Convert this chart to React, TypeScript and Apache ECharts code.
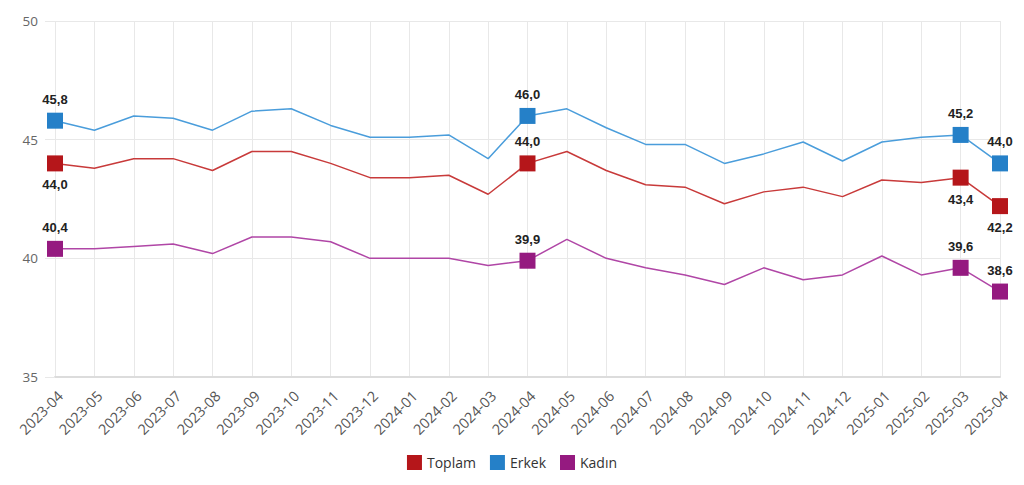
import React, { useEffect, useRef } from "react";
import * as echarts from "echarts";

const categories = [
  "2023-04", "2023-05", "2023-06", "2023-07", "2023-08", "2023-09", "2023-10", "2023-11", "2023-12",
  "2024-01", "2024-02", "2024-03", "2024-04", "2024-05", "2024-06", "2024-07", "2024-08", "2024-09",
  "2024-10", "2024-11", "2024-12", "2025-01", "2025-02", "2025-03", "2025-04",
];

const toplam = [44.0, 43.8, 44.2, 44.2, 43.7, 44.5, 44.5, 44.0, 43.4, 43.4, 43.5, 42.7, 44.0, 44.5, 43.7, 43.1, 43.0, 42.3, 42.8, 43.0, 42.6, 43.3, 43.2, 43.4, 42.2];
const erkek = [45.8, 45.4, 46.0, 45.9, 45.4, 46.2, 46.3, 45.6, 45.1, 45.1, 45.2, 44.2, 46.0, 46.3, 45.5, 44.8, 44.8, 44.0, 44.4, 44.9, 44.1, 44.9, 45.1, 45.2, 44.0];
const kadin = [40.4, 40.4, 40.5, 40.6, 40.2, 40.9, 40.9, 40.7, 40.0, 40.0, 40.0, 39.7, 39.9, 40.8, 40.0, 39.6, 39.3, 38.9, 39.6, 39.1, 39.3, 40.1, 39.3, 39.6, 38.6];

const markedIndices = [0, 12, 23, 24];
const toplamLabelPos: Record<number, string> = { 0: "bottom", 12: "top", 23: "bottom", 24: "bottom" };

const yTicks = { min: 35, max: 50, interval: 5 };

function buildData(values: number[], color: string, pos: (i: number) => string) {
  return values.map((v, i) => {
    if (markedIndices.includes(i)) {
      return {
        value: v,
        symbol: "rect",
        symbolSize: 16,
        itemStyle: { color },
        label: {
          show: true,
          position: pos(i),
          distance: 7,
          formatter: (p: any) => Number(p.value).toFixed(1).replace(".", ","),
          fontFamily: "Liberation Sans",
          fontWeight: "bold",
          fontSize: 13,
          color: "#222",
        },
      };
    }
    return { value: v, symbol: "none" };
  });
}

export default function App() {
  const ref = useRef<HTMLDivElement>(null);
  useEffect(() => {
    if (!ref.current) return;
    const chart = echarts.init(ref.current, undefined, { renderer: "svg" });
    const seriesDefs = [
      { name: "Toplam", values: toplam, color: "#b5161a", line: "#c83a3a", pos: (i: number) => toplamLabelPos[i] },
      { name: "Erkek", values: erkek, color: "#2580c8", line: "#4a9ddb", pos: () => "top" },
      { name: "Kadın", values: kadin, color: "#951a80", line: "#b046a6", pos: () => "top" },
    ];
    chart.setOption({
      animation: false,
      textStyle: { fontFamily: "Open Sans" },
      grid: { left: 55, right: 24, top: 21, bottom: 108, containLabel: false },
      legend: {
        bottom: 10,
        left: "center",
        itemWidth: 15,
        itemHeight: 15,
        itemGap: 14,
        icon: "rect",
        textStyle: { fontSize: 14, color: "#333", fontFamily: "Open Sans" },
        data: seriesDefs.map((s) => ({ name: s.name, itemStyle: { color: s.color } })),
      },
      xAxis: {
        type: "category",
        data: categories,
        boundaryGap: false,
        axisLine: { lineStyle: { color: "#dcdcdc", width: 2 } },
        axisTick: { show: false },
        axisLabel: {
          rotate: 45,
          fontSize: 14.5,
          color: "#555",
          margin: 11,
          interval: 0,
          verticalAlign: "top",
        },
        splitLine: { show: true, lineStyle: { color: "#e8e8e8" } },
      },
      yAxis: {
        type: "value",
        min: yTicks.min,
        max: yTicks.max,
        interval: yTicks.interval,
        axisLine: { show: false },
        axisTick: { show: true, length: 10, lineStyle: { color: "#e8e8e8" } },
        axisLabel: { fontSize: 13.5, color: "#666", margin: 17 },
        splitLine: { show: true, lineStyle: { color: "#e8e8e8" } },
      },
      series: seriesDefs.map((s) => ({
        name: s.name,
        type: "line",
        color: s.color,
        lineStyle: { color: s.line, width: 1.5 },
        itemStyle: { color: s.color },
        showSymbol: true,
        data: buildData(s.values, s.color, s.pos),
        z: 2,
      })),
    });
    return () => chart.dispose();
  }, []);
  return (
    <div
      ref={ref}
      style={{ position: "fixed", left: 0, top: 0, width: 1024, height: 485, background: "#fff" }}
    />
  );
}
